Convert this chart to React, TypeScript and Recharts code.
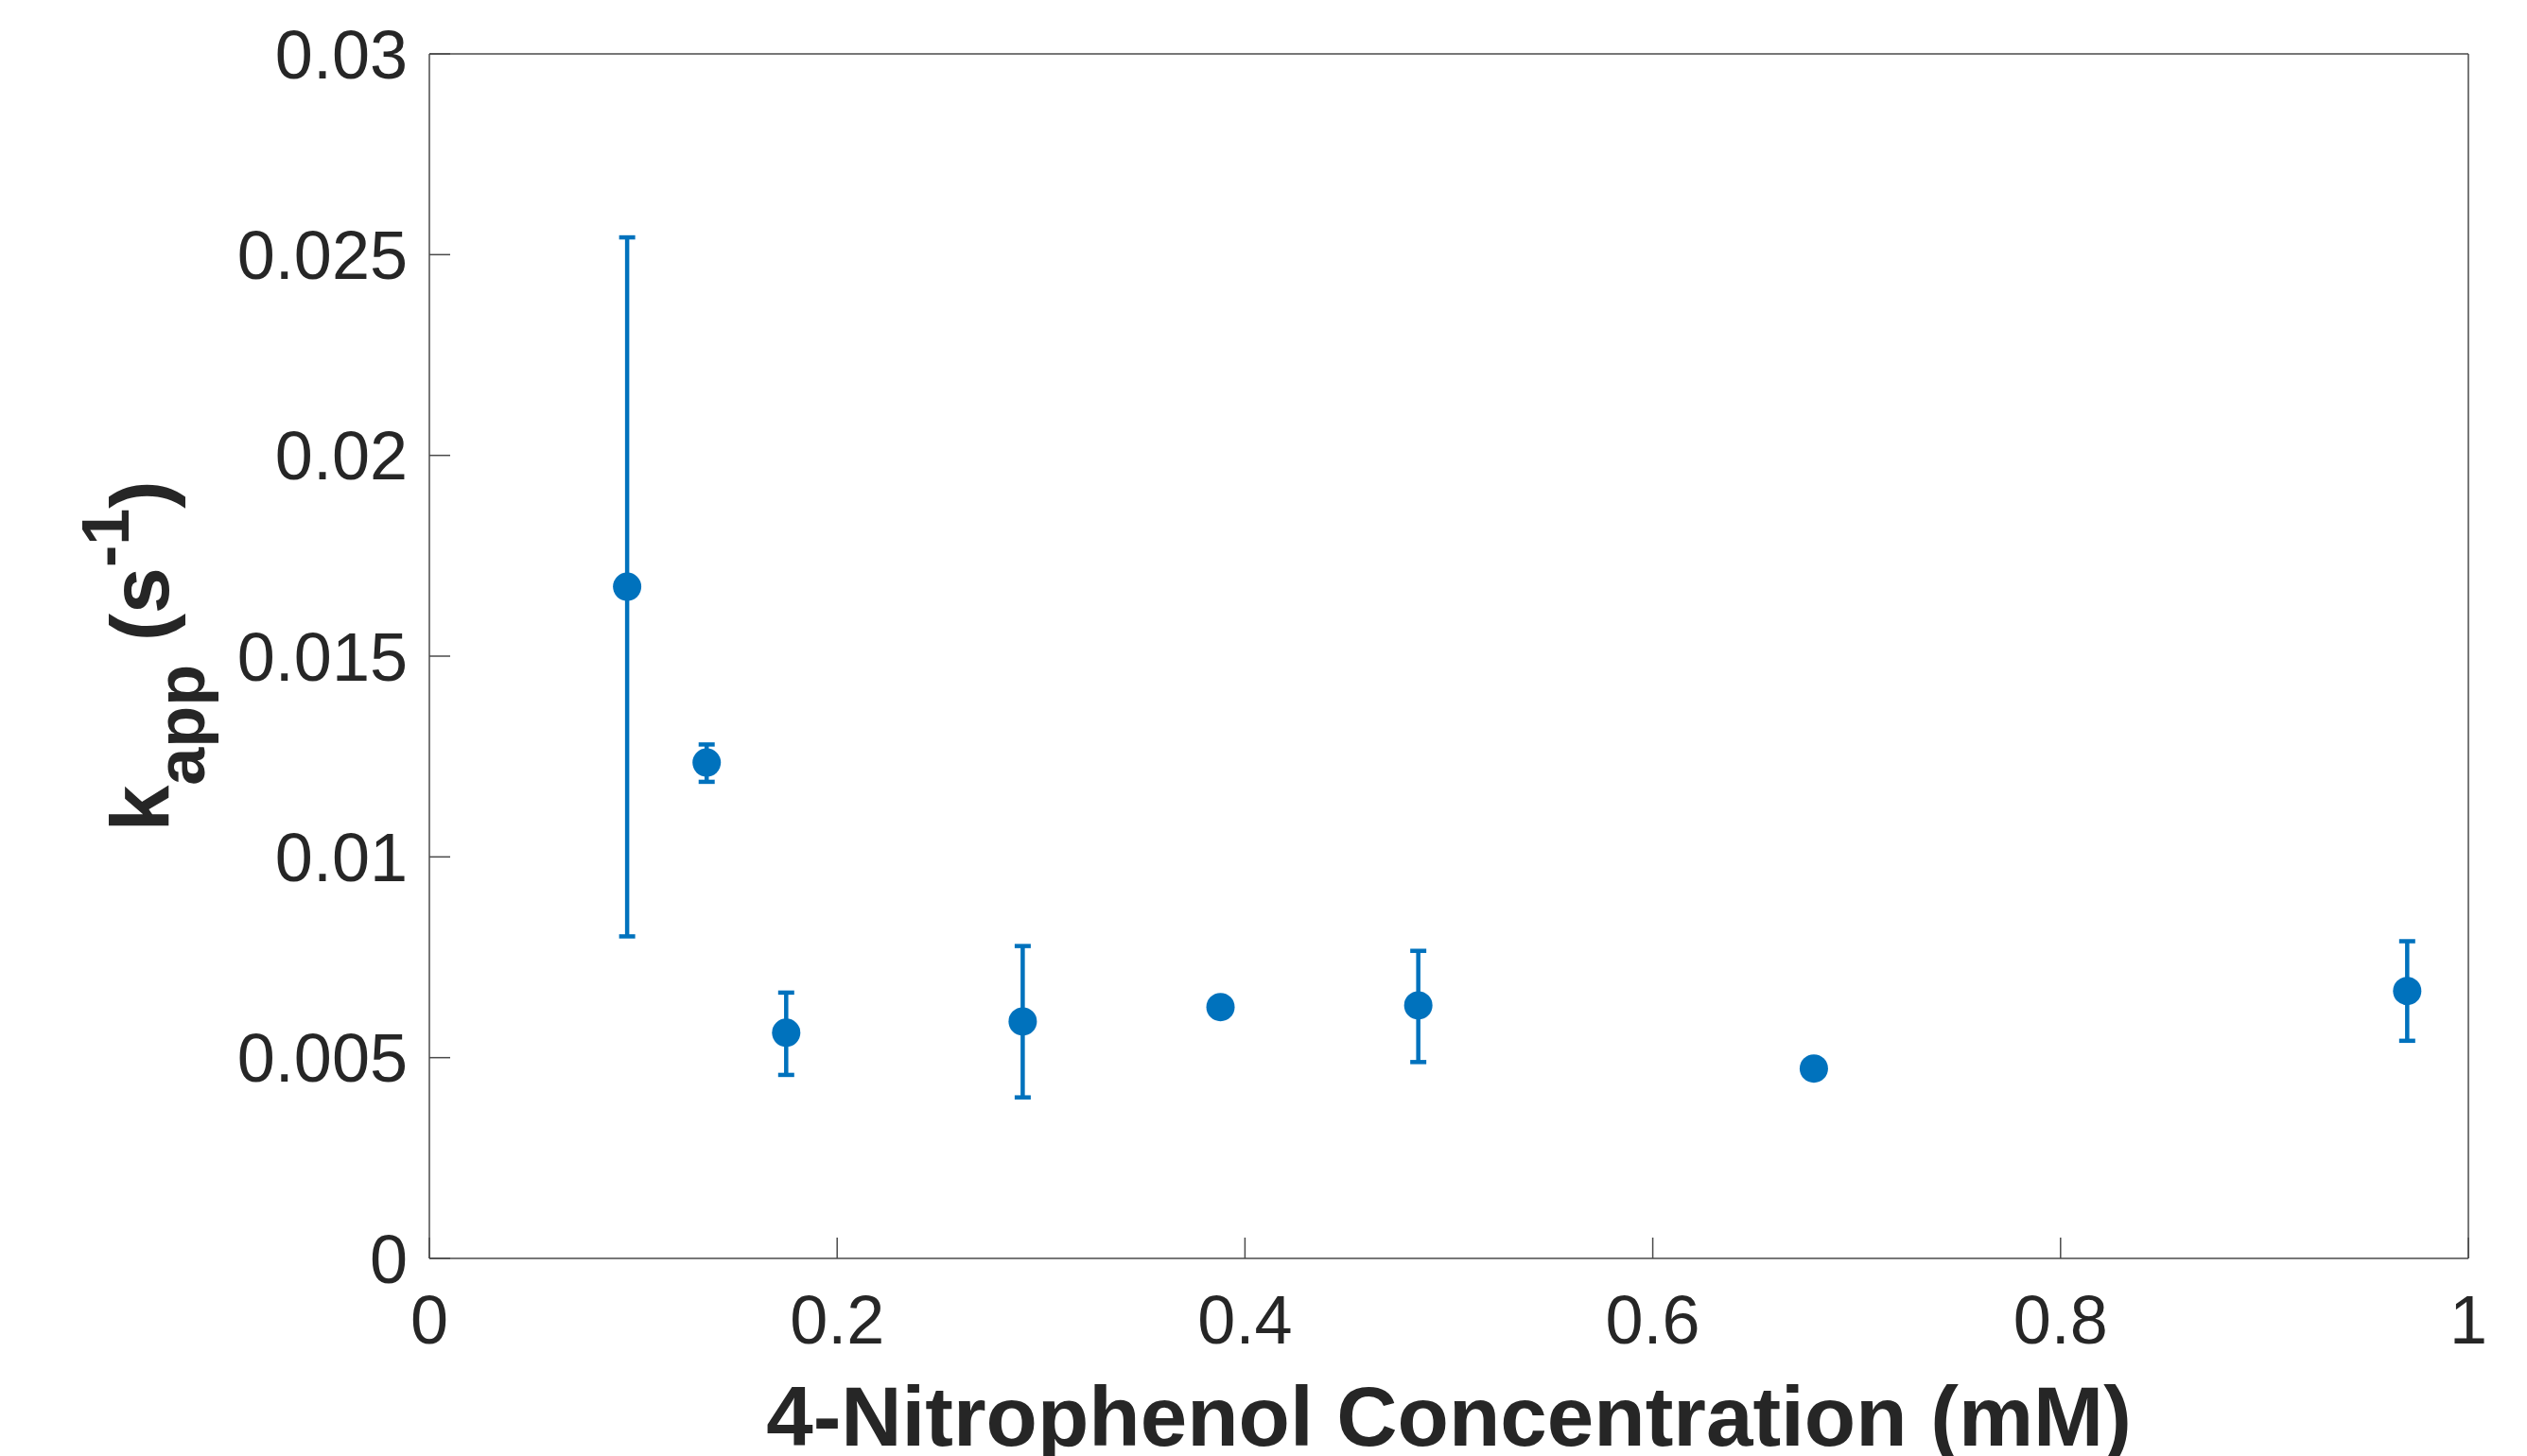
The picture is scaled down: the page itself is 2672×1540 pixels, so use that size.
import React from 'react';
import { ScatterChart, Scatter, XAxis, YAxis, ErrorBar } from 'recharts';

// Data
const concentrations = [0.097, 0.136, 0.175, 0.291, 0.388, 0.485, 0.679, 0.97];
const kappValues = [0.01673, 0.01235, 0.00562, 0.0059, 0.00626, 0.0063, 0.00473, 0.00666];
const errLower = [0.00871, 0.00048, 0.00105, 0.00189, 0.0001, 0.00141, 0.0001, 0.00124];
const errUpper = [0.0087, 0.00045, 0.001, 0.00188, 0.0001, 0.00136, 0.0001, 0.00124];
const xTicks = [0, 0.2, 0.4, 0.6, 0.8, 1];
const yTicks = [0, 0.005, 0.01, 0.015, 0.02, 0.025, 0.03];
const xLabel = '4-Nitrophenol Concentration (mM)';

const data = concentrations.map((c, i) => ({
  x: c,
  y: kappValues[i],
  err: [errLower[i], errUpper[i]],
}));

const BLUE = '#0072BD';
const AXIS = '#4a4a4a';
const TEXT = '#262626';
const FONT = '"Liberation Sans", Arial, Helvetica, sans-serif';

const tickStyle = { fill: TEXT, fontSize: 72, fontFamily: FONT };

const Dot = (props: any) => {
  const { cx, cy } = props;
  return <circle cx={cx} cy={cy} r={15} fill={BLUE} />;
};

const YLabel = (props: any) => {
  const vb = props.viewBox || {};
  const cx = vb.x + 178;
  const cy = vb.y + vb.height / 2;
  return (
    <text
      x={cx}
      y={cy}
      transform={`rotate(-90, ${cx}, ${cy})`}
      textAnchor="middle"
      fill={TEXT}
      fontFamily={FONT}
      fontWeight="bold"
      fontSize={88}
    >
      <tspan>k</tspan>
      <tspan dy={38} fontSize={72}>app</tspan>
      <tspan dy={-38} fontSize={88}>{' (s'}</tspan>
      <tspan dy={-42} fontSize={70}>-1</tspan>
      <tspan dy={42} fontSize={88}>)</tspan>
    </text>
  );
};

const XLabel = (props: any) => {
  const vb = props.viewBox || {};
  return (
    <text
      x={vb.x + vb.width / 2}
      y={vb.y + 198}
      textAnchor="middle"
      fill={TEXT}
      fontFamily={FONT}
      fontWeight="bold"
      fontSize={89}
    >
      {xLabel}
    </text>
  );
};

export default function App() {
  return (
    <div
      style={{
        position: 'absolute',
        left: 0,
        top: 0,
        width: 2672,
        height: 1540,
        overflow: 'hidden',
        background: '#ffffff',
        fontFamily: FONT,
      }}
    >
      <ScatterChart
        width={2672}
        height={1540}
        margin={{ top: 0, right: 0, bottom: 0, left: 0 }}
      >
        <XAxis
          xAxisId="bottom"
          orientation="bottom"
          type="number"
          dataKey="x"
          domain={[0, 1]}
          ticks={xTicks}
          allowDataOverflow
          height={209}
          tickSize={-22}
          tickMargin={61}
          tick={tickStyle}
          stroke={AXIS}
          strokeWidth={1.5}
          label={{ content: XLabel }}
        />
        <XAxis
          xAxisId="top"
          orientation="top"
          type="number"
          domain={[0, 1]}
          ticks={xTicks}
          allowDataOverflow
          height={57}
          tickSize={-22}
          tick={false}
          stroke={AXIS}
          strokeWidth={1.5}
        />
        <YAxis
          yAxisId="left"
          orientation="left"
          type="number"
          dataKey="y"
          domain={[0, 0.03]}
          ticks={yTicks}
          allowDataOverflow
          width={454}
          tickSize={-22}
          tickMargin={45}
          tick={tickStyle}
          stroke={AXIS}
          strokeWidth={1.5}
          label={{ content: YLabel }}
        />
        <YAxis
          yAxisId="right"
          orientation="right"
          type="number"
          domain={[0, 0.03]}
          ticks={yTicks}
          allowDataOverflow
          width={62}
          tickSize={-22}
          tick={false}
          stroke={AXIS}
          strokeWidth={1.5}
        />
        <Scatter
          data={data}
          xAxisId="bottom"
          yAxisId="left"
          fill={BLUE}
          shape={Dot}
          isAnimationActive={false}
        >
          <ErrorBar
            dataKey="err"
            direction="y"
            width={8.5}
            stroke={BLUE}
            strokeWidth={4.5}
          />
        </Scatter>
      </ScatterChart>
    </div>
  );
}
